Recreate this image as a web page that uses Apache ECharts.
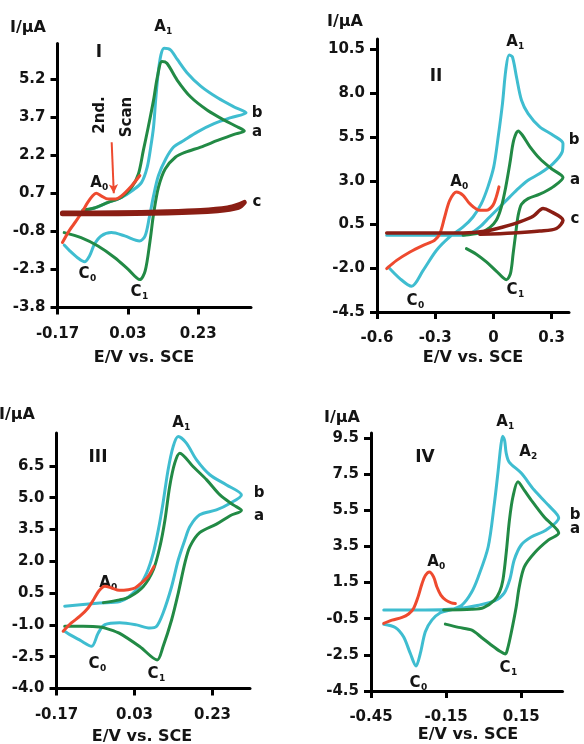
<!DOCTYPE html>
<html>
<head>
<meta charset="utf-8">
<script src="https://cdn.jsdelivr.net/npm/echarts@6/dist/echarts.min.js"></script>
<style>
  html, body { margin: 0; padding: 0; background: #fff; }
  #chart { width: 584px; height: 744px; }
</style>
</head>
<body>
<div id="chart"></div>
<script>
// ---- tick labels ----
const xTicks1 = [-0.17, 0.03, 0.23]
const yTicks1 = [-3.8, -2.3, -0.8, 0.7, 2.2, 3.7, 5.2]
const xTicks2 = [-0.6, -0.3, 0, 0.3]
const yTicks2 = [-4.5, -2.0, 0.5, 3.0, 5.5, 8.0, 10.5]
const xTicks3 = [-0.17, 0.03, 0.23]
const yTicks3 = [-4.0, -2.5, -1.0, 0.5, 2.0, 3.5, 5.0, 6.5]
const xTicks4 = [-0.45, -0.15, 0.15]
const yTicks4 = [-4.5, -2.5, -0.5, 1.5, 3.5, 5.5, 7.5, 9.5]

// ---- panel I : [E (V), I (uA)] ----
const p1Cyan = [[-0.098,0.01],[-0.065,0.12],[-0.026,0.34],[0.012,0.54],[0.045,0.83],[0.069,1.13],[0.085,1.73],[0.095,2.52],[0.103,3.31],[0.109,4.37],[0.116,5.42],[0.124,6.15],[0.133,6.41],[0.151,6.35],[0.170,5.98],[0.198,5.45],[0.237,4.92],[0.285,4.46],[0.332,4.10],[0.366,3.87],[0.323,3.68],[0.275,3.44],[0.227,3.11],[0.189,2.78],[0.160,2.52],[0.138,2.06],[0.117,1.40],[0.103,0.60],[0.091,-0.25],[0.079,-0.98],[0.063,-1.18],[0.021,-0.98],[-0.017,-0.85],[-0.046,-0.98],[-0.065,-1.31],[-0.079,-1.77],[-0.093,-2.00],[-0.113,-1.84],[-0.135,-1.57],[-0.151,-1.34]]
const p1Green = [[-0.098,0.04],[-0.065,0.12],[-0.026,0.34],[0.012,0.54],[0.041,0.94],[0.060,1.46],[0.074,2.39],[0.088,3.31],[0.103,4.37],[0.114,5.29],[0.127,5.89],[0.141,5.82],[0.170,5.16],[0.208,4.50],[0.256,3.97],[0.304,3.58],[0.342,3.31],[0.361,3.15],[0.332,3.02],[0.285,2.78],[0.237,2.52],[0.194,2.32],[0.165,2.12],[0.136,1.66],[0.117,0.94],[0.103,-0.12],[0.093,-1.18],[0.079,-2.37],[0.064,-2.70],[0.031,-2.30],[-0.007,-1.84],[-0.055,-1.38],[-0.103,-1.05],[-0.151,-0.85]]
const p1Red = [[-0.156,-1.24],[-0.137,-0.78],[-0.117,-0.39],[-0.098,0.01],[-0.084,0.34],[-0.070,0.60],[-0.060,0.70],[-0.046,0.60],[-0.026,0.47],[-0.007,0.47],[0.012,0.60],[0.041,1.00],[0.064,1.40]]
const p1Brown = [[-0.156,-0.08],[-0.003,-0.07],[0.141,-0.03],[0.237,0.02],[0.313,0.12],[0.347,0.25],[0.361,0.34],[0.344,0.14],[0.285,0.01],[0.141,-0.08],[-0.050,-0.11],[-0.156,-0.11]]
const p1Arrow = [[-0.016, 2.71], [-0.010, 0.70]]

// ---- panel II ----
const p2Cyan = [[-0.542,-1.93],[-0.482,-2.59],[-0.422,-3.03],[-0.362,-2.12],[-0.293,-0.97],[-0.225,-0.21],[-0.156,0.36],[-0.105,0.93],[-0.062,1.69],[-0.028,2.65],[0.002,3.79],[0.025,5.51],[0.047,7.41],[0.064,9.32],[0.081,10.18],[0.098,10.08],[0.119,8.94],[0.145,7.60],[0.179,6.84],[0.239,6.08],[0.308,5.60],[0.359,5.13],[0.355,4.65],[0.308,3.98],[0.239,3.41],[0.179,3.03],[0.128,2.55],[0.085,2.08],[0.033,1.50],[-0.019,0.93],[-0.070,0.36],[-0.122,-0.02],[-0.190,-0.12],[-0.358,-0.12],[-0.478,-0.12],[-0.550,-0.12]]
const p2Green = [[-0.156,-0.12],[-0.070,0.02],[-0.019,0.32],[0.015,0.74],[0.041,1.50],[0.064,2.65],[0.085,3.98],[0.105,5.32],[0.128,5.85],[0.150,5.60],[0.187,4.97],[0.239,4.27],[0.298,3.70],[0.359,3.18],[0.308,2.65],[0.239,2.23],[0.179,1.98],[0.145,1.66],[0.128,1.03],[0.115,-0.02],[0.102,-1.16],[0.088,-2.31],[0.067,-2.65],[0.015,-2.16],[-0.036,-1.64],[-0.088,-1.20],[-0.139,-0.88]]
const p2Red = [[-0.550,-2.02],[-0.499,-1.55],[-0.430,-1.07],[-0.362,-0.69],[-0.303,-0.40],[-0.276,-0.02],[-0.251,0.93],[-0.225,1.88],[-0.190,2.36],[-0.156,2.17],[-0.122,1.69],[-0.070,1.31],[-0.036,1.31],[-0.002,1.60],[0.015,2.08],[0.029,2.65]]
const p2Brown = [[-0.550,0.02],[-0.156,0.02],[-0.036,0.13],[0.050,0.36],[0.136,0.65],[0.205,0.97],[0.256,1.41],[0.291,1.27],[0.359,0.74],[0.325,0.27],[0.239,0.13],[0.102,0.02],[-0.070,-0.06]]

// ---- panel III ----
const p3Cyan = [[-0.149,-0.12],[-0.102,-0.04],[-0.059,0.03],[-0.008,0.10],[0.035,0.65],[0.061,1.44],[0.078,2.38],[0.091,3.48],[0.103,4.74],[0.116,6.31],[0.129,7.41],[0.142,7.88],[0.163,7.57],[0.189,6.78],[0.223,6.08],[0.266,5.60],[0.304,5.13],[0.275,4.74],[0.240,4.42],[0.197,4.19],[0.172,3.64],[0.159,3.01],[0.142,2.06],[0.125,0.80],[0.103,-0.45],[0.086,-1.08],[0.069,-1.15],[0.035,-1.00],[-0.008,-0.90],[-0.046,-0.99],[-0.063,-1.38],[-0.080,-2.01],[-0.110,-1.72],[-0.136,-1.46],[-0.149,-1.30]]
const p3Green = [[-0.050,0.05],[-0.008,0.18],[0.018,0.33],[0.052,0.80],[0.078,1.59],[0.095,2.69],[0.108,3.95],[0.120,5.52],[0.133,6.63],[0.146,7.10],[0.180,6.47],[0.215,5.84],[0.249,5.13],[0.283,4.66],[0.304,4.40],[0.275,4.15],[0.240,3.75],[0.197,3.35],[0.172,2.69],[0.159,1.91],[0.142,0.49],[0.125,-0.77],[0.103,-2.03],[0.088,-2.65],[0.044,-2.03],[-0.008,-1.40],[-0.033,-1.22],[-0.059,-1.10],[-0.102,-1.07],[-0.149,-1.07]]
const p3Red = [[-0.153,-1.30],[-0.132,-0.91],[-0.110,-0.59],[-0.089,-0.20],[-0.074,0.22],[-0.061,0.61],[-0.046,0.82],[-0.029,0.74],[-0.009,0.63],[0.014,0.66],[0.031,0.74],[0.048,0.98],[0.065,1.29],[0.080,1.76]]

// ---- panel IV ----
const p4Cyan = [[-0.399,-0.80],[-0.353,-0.98],[-0.320,-1.50],[-0.293,-2.42],[-0.270,-3.12],[-0.253,-2.42],[-0.233,-1.22],[-0.207,-0.58],[-0.173,-0.17],[-0.127,0.01],[-0.087,0.25],[-0.050,0.92],[-0.022,1.80],[0.018,3.47],[0.043,5.90],[0.058,7.70],[0.068,9.00],[0.076,9.60],[0.084,9.35],[0.090,8.67],[0.102,8.17],[0.150,7.56],[0.202,6.62],[0.258,5.79],[0.300,5.07],[0.250,4.41],[0.190,4.02],[0.150,3.58],[0.122,2.75],[0.105,1.70],[0.082,0.92],[0.045,0.50],[-0.020,0.25],[-0.100,0.07],[-0.233,-0.02],[-0.399,-0.02]]
const p4Green = [[-0.160,-0.02],[-0.047,0.02],[0.000,0.12],[0.043,0.53],[0.064,1.00],[0.077,1.64],[0.090,3.13],[0.103,4.96],[0.117,6.25],[0.137,7.08],[0.162,6.62],[0.190,6.07],[0.242,5.13],[0.300,4.24],[0.258,3.85],[0.202,3.13],[0.162,2.36],[0.142,1.25],[0.130,0.15],[0.110,-1.29],[0.095,-2.20],[0.087,-2.45],[0.065,-2.30],[0.030,-1.95],[-0.007,-1.55],[-0.047,-1.13],[-0.100,-0.98],[-0.153,-0.80]]
const p4Red = [[-0.399,-0.76],[-0.366,-0.58],[-0.326,-0.43],[-0.300,-0.24],[-0.280,0.07],[-0.262,0.71],[-0.246,1.45],[-0.233,1.89],[-0.217,2.09],[-0.200,1.82],[-0.187,1.27],[-0.171,0.81],[-0.151,0.53],[-0.129,0.38],[-0.113,0.34]]

const FONT = 'DejaVu Sans'
const INK = '#141414'
const CYAN = '#3fbdd0'
const GREEN = '#228a45'
const RED = '#ee4a2f'
const BROWN = '#8a1e14'

const xAx = (i, min, max, ticks) => ({
    type: 'value', gridIndex: i, min, max,
    axisLine: { onZero: false, lineStyle: { color: '#000', width: 3 } },
    axisTick: { show: true, customValues: ticks, length: 7, lineStyle: { color: '#000', width: 3 } },
    axisLabel: { customValues: ticks, margin: 19, fontFamily: FONT, fontWeight: 'bold', fontSize: 15, color: INK },
    splitLine: { show: false }
})
const yAx = (i, min, max, ticks) => ({
    type: 'value', gridIndex: i, min, max,
    axisLine: { onZero: false, lineStyle: { color: '#000', width: 3 } },
    axisTick: { show: true, customValues: ticks, length: 7, lineStyle: { color: '#000', width: 3 } },
    axisLabel: { customValues: ticks, margin: 12, fontFamily: FONT, fontWeight: 'bold', fontSize: 15, color: INK,
        formatter: v => v.toFixed(1) },
    splitLine: { show: false }
})
const curve = (i, data, color, width) => ({
    type: 'line', xAxisIndex: i, yAxisIndex: i, data,
    symbol: 'none', showSymbol: false, smooth: 0.3, silent: true,
    lineStyle: { color, width, cap: 'round', join: 'round' }
})

// text helpers (pixel placement of annotations)
const txt = (x, y, text, size, align) => ({
    type: 'text', x, y, silent: true,
    style: { text, fontFamily: FONT, fontWeight: 'bold', fontSize: size || 15, fill: INK,
        align: align || 'center', verticalAlign: 'middle' }
})
const peak = (x, y, letter, digit) => [
    txt(x, y, letter, 15),
    txt(x + 6, y + 5, digit, 9, 'left')
]
const vtxt = (x, y, text) => Object.assign(txt(x, y, text, 15), { rotation: Math.PI / 2 })

const redI = curve(0, p1Red, RED, 3)
redI.markLine = {
    silent: true, animation: false,
    symbol: ['none', 'arrow'], symbolSize: [7, 9],
    lineStyle: { color: RED, width: 2, type: 'solid' },
    label: { show: false },
    data: [[{ coord: p1Arrow[0] }, { coord: p1Arrow[1] }]]
}

const option = {
    animation: false,
    backgroundColor: '#fff',
    grid: [
        { left: 57.5, top: 43.5, width: 193.5, height: 264, outerBoundsMode: 'none' },
        { left: 377, top: 39, width: 192, height: 273, outerBoundsMode: 'none' },
        { left: 56.5, top: 433, width: 193.5, height: 255.5, outerBoundsMode: 'none' },
        { left: 371, top: 433, width: 191.5, height: 258, outerBoundsMode: 'none' }
    ],
    xAxis: [
        xAx(0, -0.17, 0.38, xTicks1),
        xAx(1, -0.6, 0.39, xTicks2),
        xAx(2, -0.17, 0.326, xTicks3),
        xAx(3, -0.45, 0.315, xTicks4)
    ],
    yAxis: [
        yAx(0, -3.8, 6.6, yTicks1),
        yAx(1, -4.5, 11.1, yTicks2),
        yAx(2, -4.0, 8.05, yTicks3),
        yAx(3, -4.5, 9.78, yTicks4)
    ],
    series: [
        curve(0, p1Cyan, CYAN, 3),
        curve(0, p1Green, GREEN, 3),
        redI,
        curve(0, p1Brown, BROWN, 5),
        curve(1, p2Cyan, CYAN, 3),
        curve(1, p2Green, GREEN, 3),
        curve(1, p2Red, RED, 3),
        curve(1, p2Brown, BROWN, 3.5),
        curve(2, p3Cyan, CYAN, 3),
        curve(2, p3Green, GREEN, 3),
        curve(2, p3Red, RED, 3),
        curve(3, p4Cyan, CYAN, 3),
        curve(3, p4Green, GREEN, 3),
        curve(3, p4Red, RED, 3)
    ],
    graphic: [
        // panel I
        txt(10, 28, 'I/\u00b5A', 16, 'left'),
        txt(99, 53, 'I', 17),
        ...peak(160, 27, 'A', '1'),
        ...peak(96, 183, 'A', '0'),
        ...peak(84, 274, 'C', '0'),
        ...peak(136, 292, 'C', '1'),
        txt(257, 113, 'b'), txt(257, 132, 'a'), txt(257, 202, 'c'),
        vtxt(100, 115, '2nd.'), vtxt(127, 117, 'Scan'),
        txt(144, 358, 'E/V vs. SCE', 16),
        // panel II
        txt(327, 22, 'I/\u00b5A', 16, 'left'),
        txt(436, 77, 'II', 17),
        ...peak(512, 42, 'A', '1'),
        ...peak(456, 182, 'A', '0'),
        ...peak(412, 301, 'C', '0'),
        ...peak(512, 290, 'C', '1'),
        txt(574, 140, 'b'), txt(575, 180, 'a'), txt(575, 219, 'c'),
        txt(473, 358, 'E/V vs. SCE', 16),
        // panel III
        txt(-1, 415, 'I/\u00b5A', 16, 'left'),
        txt(98, 458, 'III', 17),
        ...peak(178, 423, 'A', '1'),
        ...peak(105, 583, 'A', '0'),
        ...peak(94, 664, 'C', '0'),
        ...peak(153, 674, 'C', '1'),
        txt(259, 493, 'b'), txt(259, 516, 'a'),
        txt(142, 737, 'E/V vs. SCE', 16),
        // panel IV
        txt(324, 418, 'I/\u00b5A', 16, 'left'),
        txt(425, 458, 'IV', 17),
        ...peak(502, 422, 'A', '1'),
        ...peak(525, 452, 'A', '2'),
        ...peak(433, 562, 'A', '0'),
        ...peak(415, 683, 'C', '0'),
        ...peak(505, 668, 'C', '1'),
        txt(575, 515, 'b'), txt(575, 529, 'a'),
        txt(468, 735, 'E/V vs. SCE', 16)
    ]
}

const myChart = echarts.init(document.getElementById('chart'), null, { renderer: 'canvas' })
myChart.setOption(option)
</script>
</body>
</html>
